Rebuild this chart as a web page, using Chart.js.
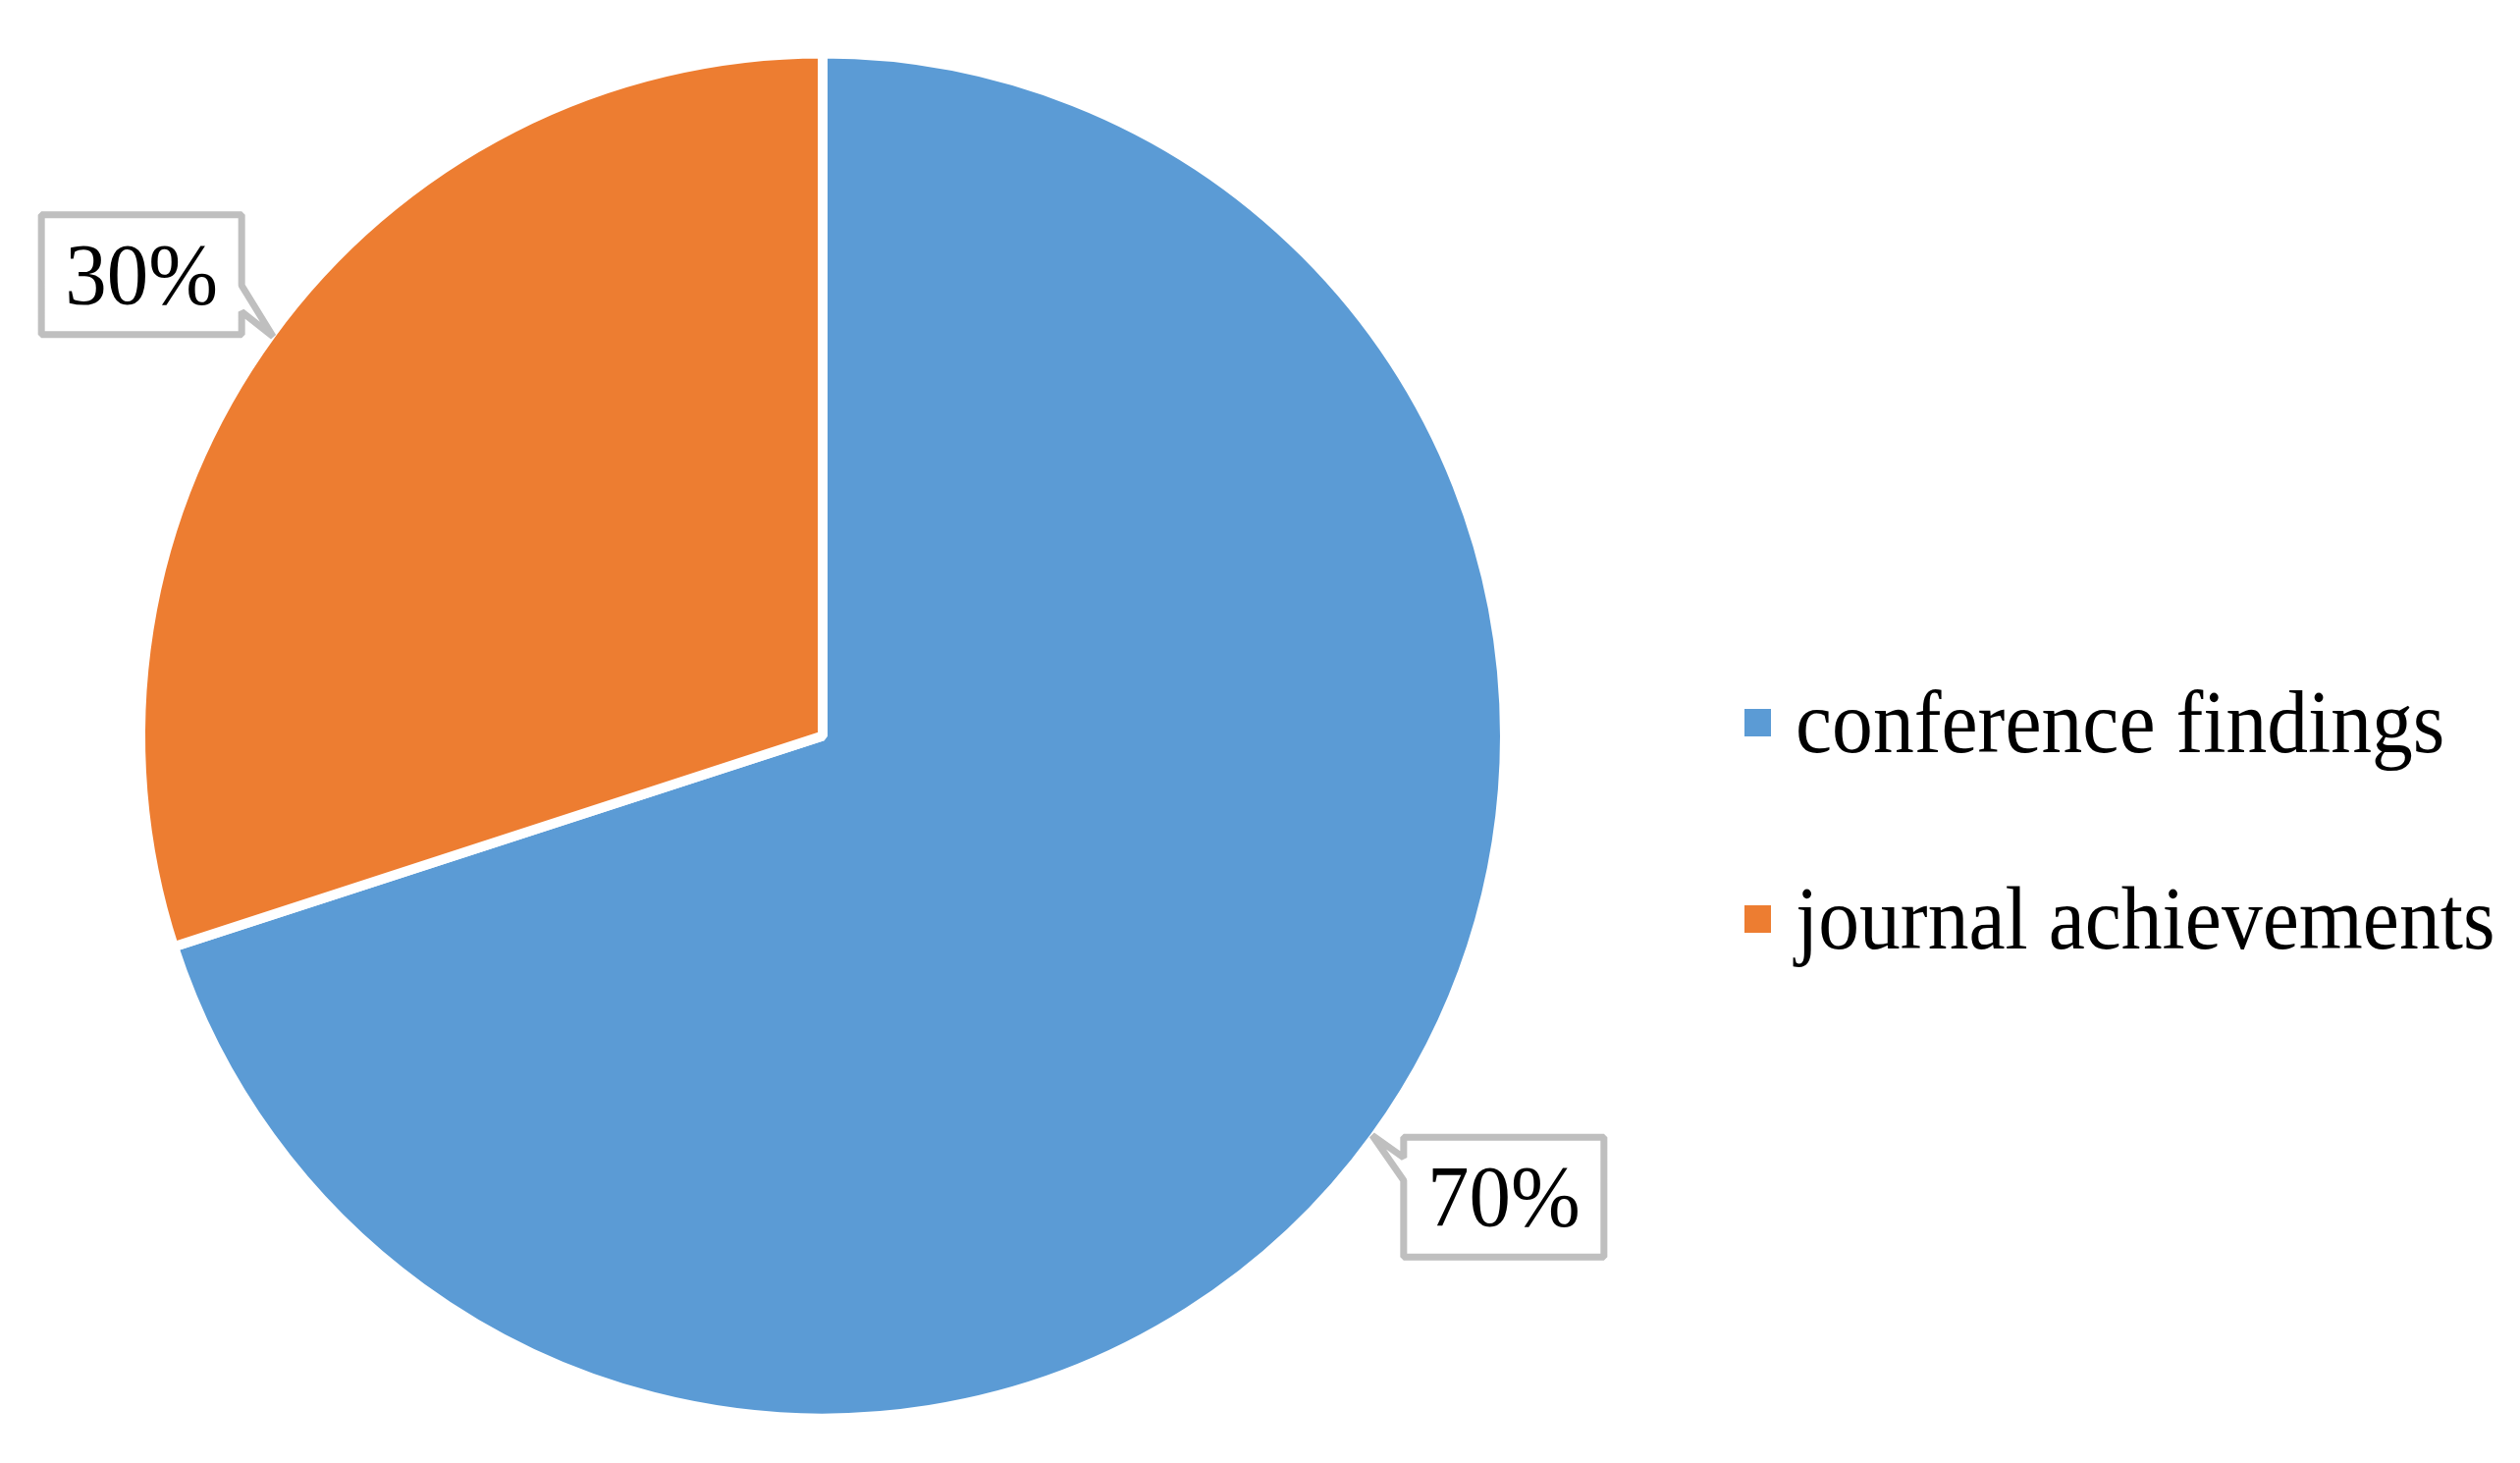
<!DOCTYPE html>
<html>
<head>
<meta charset="utf-8">
<script src="https://cdn.jsdelivr.net/npm/chart.js@4/dist/chart.umd.min.js"></script>
<style>
  html, body { margin: 0; padding: 0; background: #ffffff; }
  #wrap { width: 2567px; height: 1490px; position: relative; }
</style>
</head>
<body>
<div id="wrap"><canvas id="c" width="2567" height="1490"></canvas></div>
<script>
const categories = ["conference findings", "journal achievements"];
const values = [70, 30];
const labelTexts = ["70%", "30%"];
const colors = ["#5B9BD5", "#ED7D31"];

const FONT = '"Liberation Serif", "Times New Roman", serif';

const calloutPlugin = {
  id: 'callouts',
  afterDatasetsDraw(chart) {
    const ctx = chart.ctx;
    const meta = chart.getDatasetMeta(0);
    meta.data.forEach((arc, i) => {
      const p = arc.getProps(['x', 'y', 'startAngle', 'endAngle', 'outerRadius'], true);
      const mid = (p.startAngle + p.endAngle) / 2;
      const r = p.outerRadius - 3;
      const tx = p.x + Math.cos(mid) * r;
      const ty = p.y + Math.sin(mid) * r;
      const sx = Math.cos(mid) >= 0 ? 1 : -1;
      const sy = Math.sin(mid) >= 0 ? 1 : -1;
      const cx = tx + sx * 134;
      const cy = ty + sy * 63;
      const w = 204, h = 122;
      const x0 = cx - w / 2, x1 = cx + w / 2, y0 = cy - h / 2, y1 = cy + h / 2;
      ctx.save();
      ctx.beginPath();
      if (sx > 0) {
        const a = y0 + 0.17 * h, b = y0 + 0.36 * h;
        ctx.moveTo(x0, y0);
        ctx.lineTo(x1, y0);
        ctx.lineTo(x1, y1);
        ctx.lineTo(x0, y1);
        ctx.lineTo(x0, b);
        ctx.lineTo(tx, ty);
        ctx.lineTo(x0, a);
        ctx.closePath();
      } else {
        const a = y1 - 0.41 * h, b = y1 - 0.19 * h;
        ctx.moveTo(x0, y0);
        ctx.lineTo(x1, y0);
        ctx.lineTo(x1, a);
        ctx.lineTo(tx, ty);
        ctx.lineTo(x1, b);
        ctx.lineTo(x1, y1);
        ctx.lineTo(x0, y1);
        ctx.closePath();
      }
      ctx.fillStyle = '#ffffff';
      ctx.fill();
      ctx.lineWidth = 7;
      ctx.lineJoin = 'bevel';
      ctx.strokeStyle = '#BFBFBF';
      ctx.stroke();
      ctx.fillStyle = '#000000';
      ctx.font = '85px ' + FONT;
      ctx.textAlign = 'center';
      ctx.textBaseline = 'alphabetic';
      ctx.translate(cx, cy + 29);
      ctx.scale(1, 1.04);
      ctx.fillText(labelTexts[i], 0, 0);
      ctx.restore();
    });
  }
};

const legendPlugin = {
  id: 'sideLegend',
  afterDraw(chart) {
    const ctx = chart.ctx;
    const ds = chart.data.datasets[0];
    chart.data.labels.forEach((lab, i) => {
      const baseY = 766 + i * 200;
      ctx.save();
      ctx.fillStyle = ds.backgroundColor[i];
      ctx.fillRect(1777, baseY - 44, 27, 28);
      ctx.fillStyle = '#000000';
      ctx.font = '84px ' + FONT;
      ctx.textAlign = 'left';
      ctx.textBaseline = 'alphabetic';
      ctx.translate(1829, baseY);
      ctx.scale(0.995, 1.08);
      ctx.fillText(lab, 0, 0);
      ctx.restore();
    });
  }
};

new Chart(document.getElementById('c'), {
  type: 'pie',
  data: {
    labels: categories,
    datasets: [{
      data: values,
      backgroundColor: colors,
      borderColor: '#ffffff',
      borderWidth: 10,
      radius: 695,
      hoverOffset: 0
    }]
  },
  options: {
    responsive: false,
    animation: false,
    devicePixelRatio: 1,
    layout: { padding: { left: 100, right: 991, top: 55, bottom: 46 } },
    plugins: {
      legend: { display: false },
      tooltip: { enabled: false }
    }
  },
  plugins: [calloutPlugin, legendPlugin]
});
</script>
</body>
</html>
